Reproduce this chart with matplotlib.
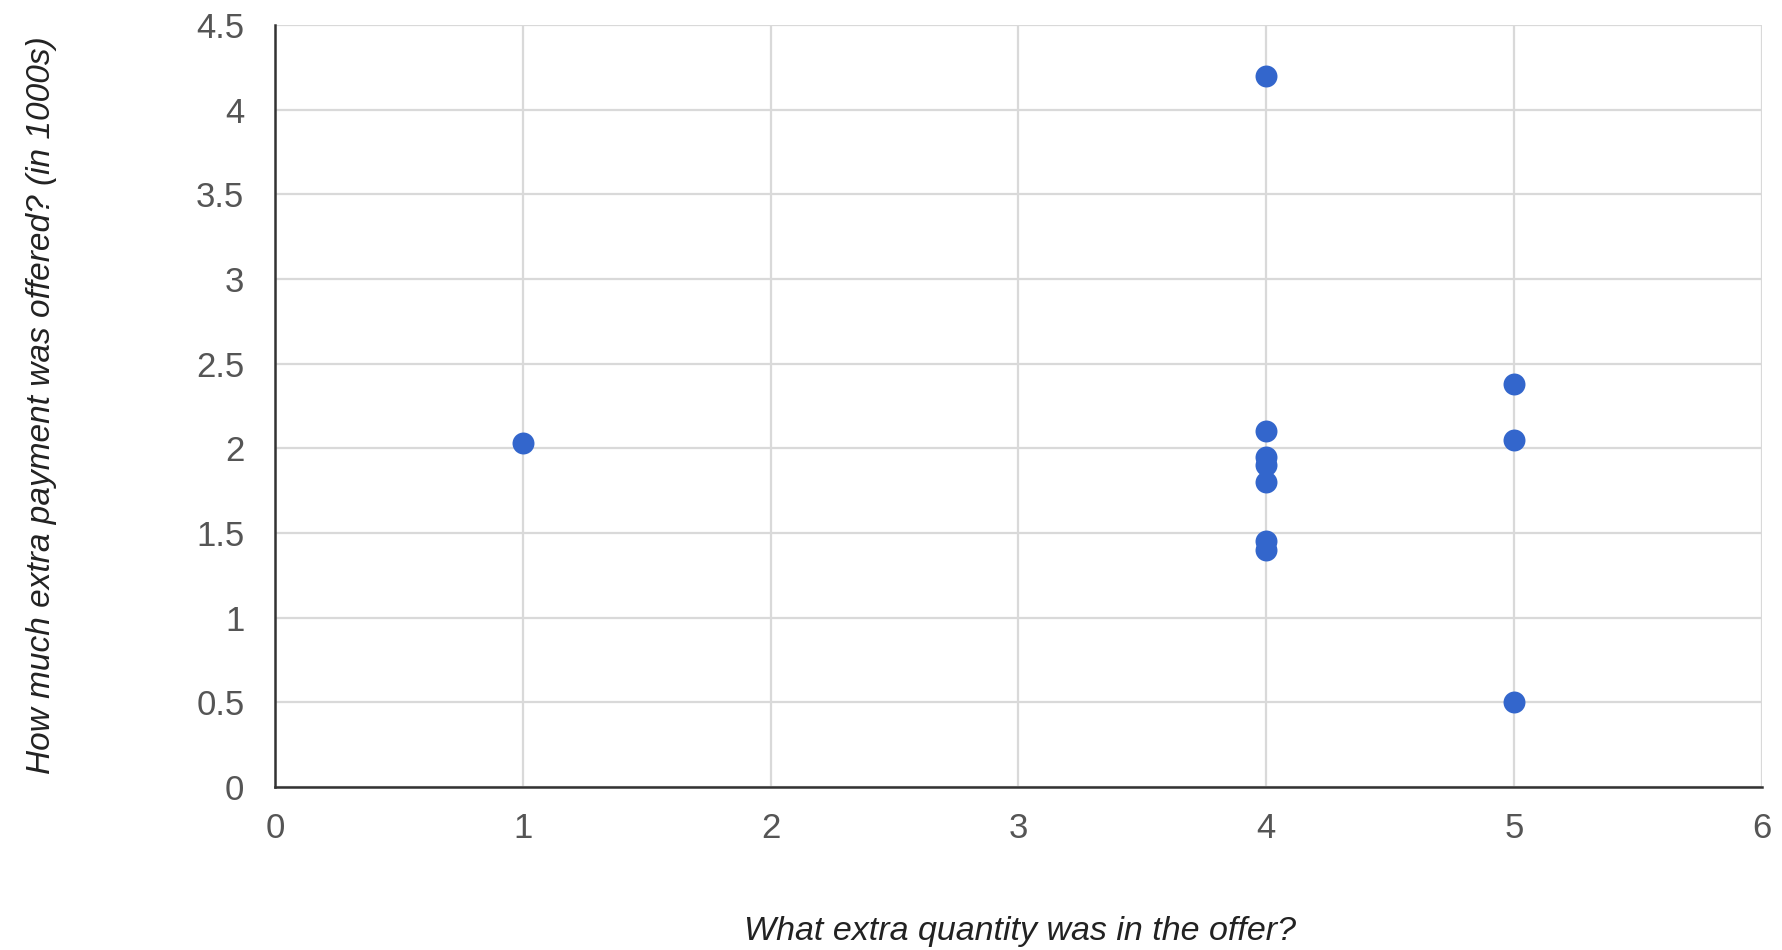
import matplotlib.pyplot as plt

plt.rcParams['font.family'] = ['Liberation Sans', 'DejaVu Sans']

# extra quantity vs extra payment (in 1000s)
quantity = [1, 4, 4, 4, 4, 4, 4, 4, 5, 5, 5]
payment = [2.03, 4.2, 2.1, 1.95, 1.9, 1.8, 1.45, 1.4, 2.38, 2.05, 0.5]

x_ticks = [0, 1, 2, 3, 4, 5, 6]
y_ticks = [0, 0.5, 1, 1.5, 2, 2.5, 3, 3.5, 4, 4.5]
y_tick_labels = ['0', '0.5', '1', '1.5', '2', '2.5', '3', '3.5', '4', '4.5']

fig = plt.figure(figsize=(17.83, 9.5), dpi=100)
ax = fig.add_axes([0.1542, 0.1716, 0.834, 0.802])

ax.scatter(quantity, payment, s=250, color='#3366cc', zorder=3, linewidths=0)

ax.set_xlim(0, 6)
ax.set_ylim(0, 4.5)
ax.set_xticks(x_ticks)
ax.set_yticks(y_ticks)
ax.set_yticklabels(y_tick_labels)
ax.grid(True, color='#d9d9d9', linewidth=1.6)
ax.set_axisbelow(True)

for side in ['top', 'right']:
    ax.spines[side].set_visible(False)
for side in ['bottom', 'left']:
    ax.spines[side].set_color('#333333')
    ax.spines[side].set_linewidth(1.8)
    ax.spines[side].set_zorder(2)

ax.tick_params(length=0, labelsize=25, labelcolor='#555555')
ax.tick_params(axis='x', pad=18)
ax.tick_params(axis='y', pad=22)

fig.text(0.572, 0.019, 'What extra quantity was in the offer?', fontsize=24.5,
         style='italic', color='#222222', ha='center', va='center')
fig.text(0.023, 0.574, 'How much extra payment was offered? (in 1000s)', fontsize=24,
         style='italic', color='#222222', ha='center', va='center', rotation=90)

fig.savefig('out.png', dpi=100)
